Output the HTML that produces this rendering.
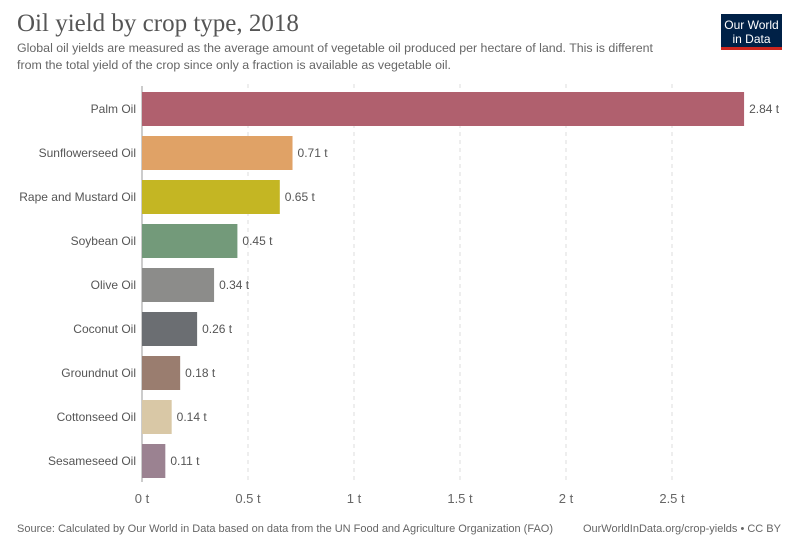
<!DOCTYPE html>
<html><head><meta charset="utf-8"><style>
body{margin:0;background:#fff;width:794px;height:543px;overflow:hidden;font-family:"Liberation Sans",sans-serif}
</style></head><body>
<svg width="794" height="543" style="position:absolute;left:0;top:0">
<text x="17" y="31" font-family="Liberation Serif" font-size="25" fill="#555">Oil yield by crop type, 2018</text>
<text x="17" y="52" font-size="12.4" fill="#666">Global oil yields are measured as the average amount of vegetable oil produced per hectare of land. This is different</text>
<text x="17" y="69" font-size="12.4" fill="#666">from the total yield of the crop since only a fraction is available as vegetable oil.</text>
<g>
<rect x="721" y="14" width="61" height="36" fill="#002147"/>
<rect x="721" y="47" width="61" height="3" fill="#ce261e"/>
<text x="751.5" y="29" font-size="12" fill="#fff" text-anchor="middle">Our World</text>
<text x="751.5" y="43" font-size="12" fill="#fff" text-anchor="middle">in Data</text>
</g>
<g id="grid"></g><g id="bars"></g><g id="ticks"></g>
<text x="17" y="532" font-size="11" fill="#666">Source: Calculated by Our World in Data based on data from the UN Food and Agriculture Organization (FAO)</text>
<text x="781" y="532" font-size="11" fill="#666" text-anchor="end">OurWorldInData.org/crop-yields • CC BY</text>
</svg>
<script>
const categories=["Palm Oil","Sunflowerseed Oil","Rape and Mustard Oil","Soybean Oil","Olive Oil","Coconut Oil","Groundnut Oil","Cottonseed Oil","Sesameseed Oil"];
const values=[2.84,0.71,0.65,0.45,0.34,0.26,0.18,0.14,0.11];
const colors=["#b0606e","#e0a266","#c4b623","#739a7a","#8c8c8a","#6b6e72","#9a7d6f","#d9c8a6","#9b8291"];
const tickValues=[0,0.5,1,1.5,2,2.5];
const tickLabels=["0 t","0.5 t","1 t","1.5 t","2 t","2.5 t"];
const NS="http://www.w3.org/2000/svg";
const x=v=>142+v*212;
const y=i=>92+i*44;
const bh=34;
function mk(t,a,p){const e=document.createElementNS(NS,t);for(const k in a)e.setAttribute(k,a[k]);document.getElementById(p).appendChild(e);return e;}
tickValues.forEach((v,i)=>{
 if(v>0){const l=mk("line",{x1:x(v),x2:x(v),y1:84,y2:482,stroke:"#ddd","stroke-dasharray":"4,4"},"grid");
 
 }
 const t=mk("text",{x:x(v),y:503,"font-size":13,fill:"#666","text-anchor":"middle"},"ticks");t.textContent=tickLabels[i];
 
 
});
const ax=mk("line",{x1:142,x2:142,y1:86,y2:482,stroke:"#999"},"grid");


categories.forEach((c,i)=>{
 const r=mk("rect",{x:x(0),y:y(i),width:x(values[i])-x(0),height:bh,fill:colors[i]},"bars");
 
 
 const lb=mk("text",{x:136,y:y(i)+bh/2+4,"font-size":12,fill:"#555","text-anchor":"end"},"bars");lb.textContent=c;
 
 
 const vl=mk("text",{x:x(values[i])+5,y:y(i)+bh/2+4,"font-size":12,fill:"#555"},"bars");vl.textContent=values[i]+" t";
 
 
});
</script>
</body></html>
